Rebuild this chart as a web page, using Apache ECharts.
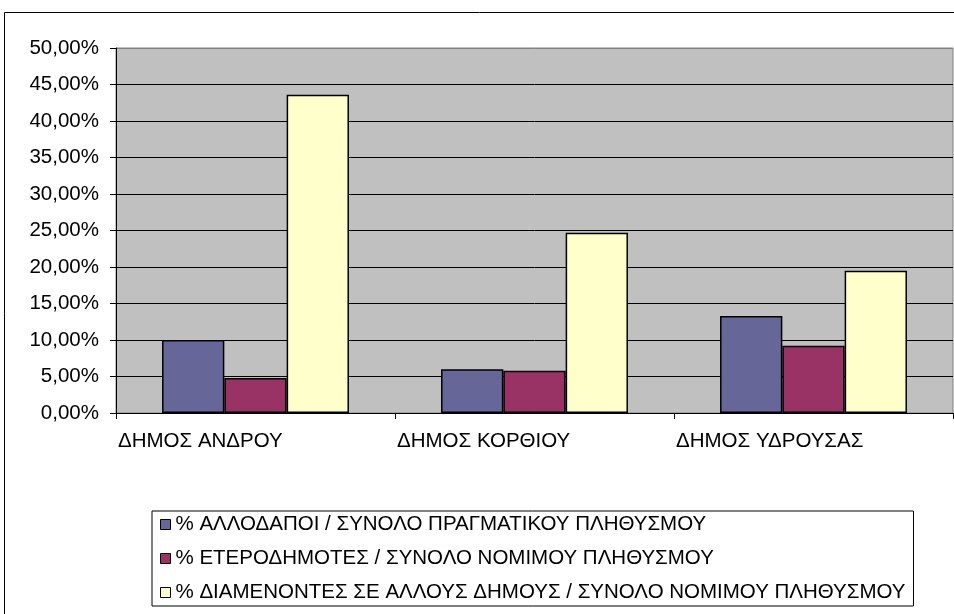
<!DOCTYPE html>
<html>
<head>
<meta charset="utf-8">
<script src="https://cdn.jsdelivr.net/npm/echarts@6/dist/echarts.min.js"></script>
<style>
  html, body { margin: 0; padding: 0; background: #fff; }
  #chart { width: 954px; height: 614px; }
</style>
</head>
<body>
<div id="chart"></div>
<script>
// δεδομένα
var dimoi = ['ΔΗΜΟΣ ΑΝΔΡΟΥ', 'ΔΗΜΟΣ ΚΟΡΘΙΟΥ', 'ΔΗΜΟΣ ΥΔΡΟΥΣΑΣ'];
var seriesNames = [
    '% ΑΛΛΟΔΑΠΟΙ / ΣΥΝΟΛΟ ΠΡΑΓΜΑΤΙΚΟΥ ΠΛΗΘΥΣΜΟΥ',
    '% ΕΤΕΡΟΔΗΜΟΤΕΣ / ΣΥΝΟΛΟ ΝΟΜΙΜΟΥ ΠΛΗΘΥΣΜΟΥ',
    '% ΔΙΑΜΕΝΟΝΤΕΣ ΣΕ ΑΛΛΟΥΣ ΔΗΜΟΥΣ / ΣΥΝΟΛΟ ΝΟΜΙΜΟΥ ΠΛΗΘΥΣΜΟΥ'
];
var allodapoi = [10.0, 6.0, 13.3];
var eterodimotes = [4.8, 5.8, 9.2];
var diamenontes = [43.6, 24.7, 19.5];
var colors = ['#666699', '#993366', '#FFFFCC'];

var font = "'Liberation Sans', Arial, sans-serif";
var fs = 20.5;

window.onload = function () {
    var myChart = echarts.init(document.getElementById('chart'));
    var values = [allodapoi, eterodimotes, diamenontes];

    // γραμμές πλέγματος: η πάνω (50%) γκρι
    var gridColors = [];
    for (var i = 0; i < 10; i++) gridColors.push('#000');
    gridColors.push('#808080');

    var series = seriesNames.map(function (name, idx) {
        return {
            name: name,
            type: 'bar',
            data: values[idx],
            barGap: '0%',
            barCategoryGap: '33%',
            itemStyle: { color: colors[idx], borderColor: '#000', borderWidth: 1.5 },
            emphasis: { disabled: true }
        };
    });

    var option = {
        animation: false,
        textStyle: { fontFamily: font },
        graphic: [{
            type: 'rect',
            shape: { x: 4.5, y: 12.5, width: 1000, height: 700 },
            style: { fill: 'none', stroke: '#000', lineWidth: 1 },
            z: -10
        }],
        grid: {
            left: 116, right: 1, top: 48, bottom: 201,
            show: true,
            backgroundColor: '#C0C0C0',
            borderColor: '#808080',
            borderWidth: 1
        },
        legend: {
            orient: 'vertical',
            left: 152,
            top: 511,
            itemWidth: 10,
            itemHeight: 10,
            itemGap: 13,
            padding: [3, 8],
            borderColor: '#000',
            borderWidth: 1,
            icon: 'rect',
            itemStyle: { borderColor: '#000', borderWidth: 1 },
            textStyle: { fontSize: fs, color: '#000', fontFamily: font },
            selectedMode: false,
            data: seriesNames
        },
        xAxis: {
            type: 'category',
            data: dimoi,
            axisLine: { lineStyle: { color: '#000', width: 1 } },
            axisTick: { show: true, length: 6, inside: false, lineStyle: { color: '#000' } },
            axisLabel: {
                margin: 18,
                formatter: function (v) { return '{a|' + v + '}'; },
                rich: {
                    a: { width: 275, align: 'left', fontSize: fs, color: '#000', fontFamily: font }
                }
            },
            splitLine: { show: false }
        },
        yAxis: {
            type: 'value',
            min: 0,
            max: 50,
            interval: 5,
            axisLine: { show: true, lineStyle: { color: '#000', width: 1 } },
            axisTick: { show: true, length: 6, lineStyle: { color: '#000' } },
            axisLabel: {
                fontSize: fs, color: '#000', margin: 17, fontFamily: font,
                formatter: function (v) { return v.toFixed(2).replace('.', ',') + '%'; }
            },
            splitLine: { show: true, lineStyle: { color: gridColors, width: 1 } }
        },
        series: series
    };
    myChart.setOption(option);
};
</script>
</body>
</html>
